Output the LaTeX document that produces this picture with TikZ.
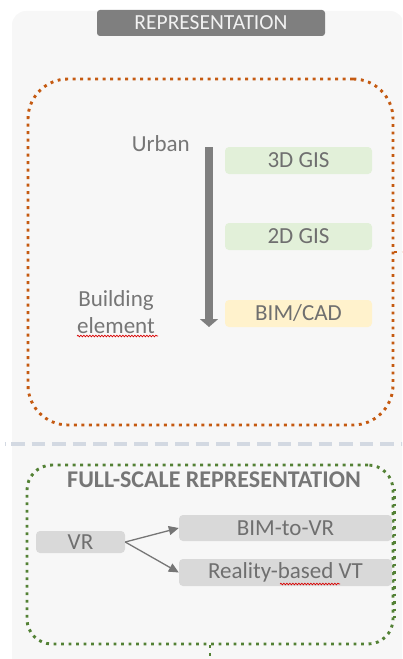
\documentclass[tikz,border=0pt]{standalone}
\usepackage{fontspec}
\setmainfont{Carlito}
\usetikzlibrary{arrows.meta,decorations.pathmorphing}

\definecolor{panelbg}{HTML}{F7F7F7}
\definecolor{titlebg}{HTML}{7F7F7F}
\definecolor{titlefg}{HTML}{F2F2F2}
\definecolor{txtgray}{HTML}{767676}
\definecolor{boxtxt}{HTML}{6F6F6F}
\definecolor{orangeline}{HTML}{C55A11}
\definecolor{greenline}{HTML}{538135}
\definecolor{sepline}{HTML}{D3D9E2}
\definecolor{gisfill}{HTML}{E2F0D9}
\definecolor{cadfill}{HTML}{FFF2CC}
\definecolor{vrfill}{HTML}{D9D9D9}

\tikzset{
  lbl/.style={font=\fontsize{23bp}{27bp}\selectfont, text=txtgray, inner sep=0pt},
  tag/.style={lbl, text=boxtxt, rounded corners=4bp, minimum height=27bp, anchor=center},
  dotted line/.style={line width=2.9bp, dash pattern=on 2.9bp off 4.6bp},
  dotframe/.style={draw, dotted line, rectangle, inner sep=0pt},
  link/.style={draw=txtgray, line width=1.3bp, -{Triangle[length=10bp,width=9bp]}},
  squiggle/.style={draw=red!85!black, line width=0.7bp, decorate,
    decoration={snake, segment length=3bp, amplitude=0.8bp}},
}

\begin{document}
\begin{tikzpicture}[x=1bp,y=-1bp]
\useasboundingbox (0,0) rectangle (402,659);
\clip (0,0) rectangle (402,659);

% background panel
\fill[panelbg, rounded corners=14bp] (12,11) rectangle (404,700);

% title bar
\node[fill=titlebg, rounded corners=3bp, minimum width=228bp, minimum height=26bp,
      inner sep=0pt, font=\fontsize{21.5bp}{25bp}\selectfont, text=titlefg]
  (title) at (211,23) {REPRESENTATION};

% scale frame (dotted orange)
\node[dotframe, draw=orangeline, rounded corners=40bp,
      minimum width=365bp, minimum height=346bp] (scale) at (210.5,252) {};
\coordinate (scaleout) at (404,252);
\draw[orangeline, dotted line] (scale.east) -- (scaleout);

% scale axis
\node[lbl, anchor=east] (urban) at (190,144) {Urban};
\node[lbl, align=center] (bldg) at (116,312) {Building\\element};
\coordinate (axtop) at (209,147);
\coordinate (axbot) at (209,327);
\draw[titlebg, line width=8bp, -{Triangle[length=8bp,width=18bp]}] (axtop) -- (axbot);
\draw[squiggle] (77,336) -- (158,336);

% data sources
\node[tag, fill=gisfill, minimum width=147bp] (gis3) at (298.5,160.5) {3D GIS};
\node[tag, fill=gisfill, minimum width=147bp] (gis2) at (298.5,236.5) {2D GIS};
\node[tag, fill=cadfill, minimum width=147bp] (bim)  at (298.5,313.5) {BIM/CAD};

% separator
\draw[sepline, line width=4.5bp] (4.5,444) -- (6.2,444);
\draw[sepline, line width=4.5bp, dash pattern=on 13.5bp off 7bp] (11,444) -- (403,444);

% full-scale frame (dotted green)
\node[dotframe, draw=greenline, rounded corners=25bp,
      minimum width=366bp, minimum height=179bp] (full) at (210,554.5) {};
\coordinate (fullout) at (210,664);
\draw[greenline, dotted line] (full.south) -- (fullout);

\node[lbl, font=\fontsize{24bp}{28bp}\selectfont\bfseries] (fulltitle) at (214,480) {FULL-SCALE REPRESENTATION};

\node[tag, fill=vrfill, minimum width=89bp, minimum height=22bp] (vr) at (80.5,542) {VR};
\node[tag, fill=vrfill, minimum width=213bp, minimum height=26bp] (b2vr) at (285.5,528) {BIM-to-VR};
\node[tag, fill=vrfill, minimum width=213bp, minimum height=27bp] (rvt) at (285.5,572.5) {Reality-based VT};
\draw[squiggle] (280,584) -- (340,584);

% redraw the frame's right edge over the wide boxes
\draw[greenline, dotted line] (full.north east) ++(0,25) -- ++(0,129);

\draw[link] (vr.east) -- (b2vr.west);
\draw[link] (vr.east) -- (rvt.west);
\end{tikzpicture}
\end{document}
